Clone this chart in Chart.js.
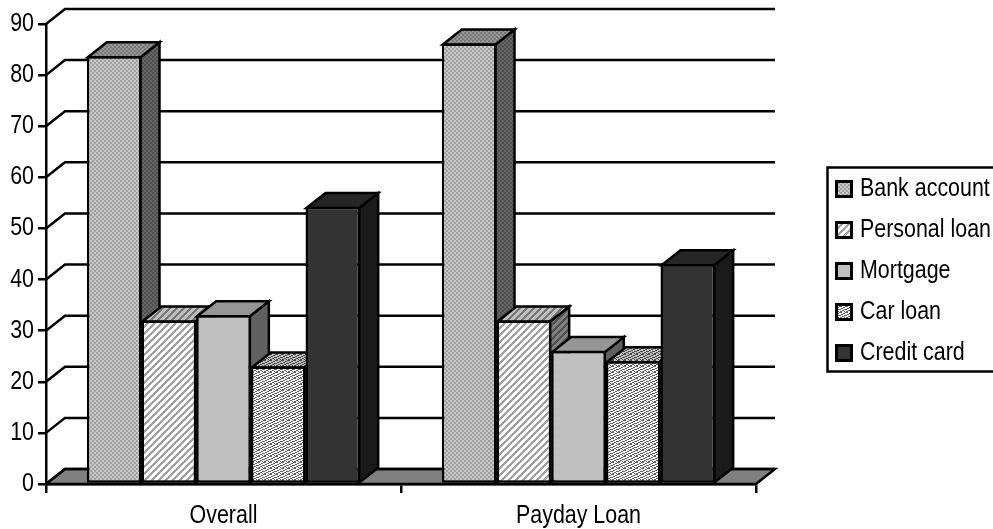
<!DOCTYPE html>
<html>
<head>
<meta charset="utf-8">
<title>Loan types</title>
<script src="https://cdn.jsdelivr.net/npm/chart.js@4"></script>
<style>
  html, body { margin: 0; padding: 0; background: #fff; }
  #wrap { width: 993px; height: 529px; }
</style>
</head>
<body>
<div id="wrap"><canvas id="barChart" width="993" height="529"></canvas></div>
<script>
const categories = ['Overall', 'Payday Loan'];
const seriesNames = ['Bank account', 'Personal loan', 'Mortgage', 'Car loan', 'Credit card'];

const bankAccount = [83.7, 86.2];
const personalLoan = [32, 32];
const mortgage = [33, 26];
const carLoan = [23, 24];
const creditCard = [54.2, 43];
const seriesValues = [bankAccount, personalLoan, mortgage, carLoan, creditCard];

const yTicks = { min: 0, max: 90, stepSize: 10 };

const FONT = { family: '"Liberation Sans", Arial, sans-serif', size: 25.5 };
const TEXT_SQUEEZE = 0.84;
const LINE = 2.5;
const DEPTH_X = 19;
const DEPTH_Y = 15;

// small repeating tile, cells is a grid of colours
function tile(cells, px) {
  const c = document.createElement('canvas');
  c.width = cells[0].length * px;
  c.height = cells.length * px;
  const g = c.getContext('2d');
  cells.forEach((row, y) => row.forEach((col, x) => {
    g.fillStyle = col;
    g.fillRect(x * px, y * px, px, px);
  }));
  return g.createPattern(c, 'repeat');
}

function checker(a, b) {
  return tile([[a, b], [b, a]], 2);
}

function hatch(line, bg) {
  const rows = [];
  for (let y = 0; y < 7; y++) {
    const row = [];
    for (let x = 0; x < 7; x++) {
      row.push((x + y) % 7 < 3 ? line : bg);
    }
    rows.push(row);
  }
  return tile(rows, 1);
}

function speckle(d, l) {
  return tile([
    [d, d, l, l, l, d],
    [l, l, l, d, d, l],
    [l, d, d, l, l, l],
    [d, l, l, l, d, d],
    [l, l, d, d, l, l],
    [d, d, l, l, d, l]
  ], 1);
}

const frontFills = [checker('#a0a0a0', '#c8c8c8'), hatch('#a0a0a0', '#ffffff'), '#c0c0c0', speckle('#606060', '#ffffff'), '#333333'];
const topFills = [checker('#787878', '#969696'), hatch('#787878', '#c0c0c0'), '#969696', speckle('#484848', '#c0c0c0'), '#262626'];
const sideFills = [checker('#505050', '#646464'), hatch('#505050', '#808080'), '#606060', speckle('#303030', '#808080'), '#1a1a1a'];

function face(ctx, pts, fill) {
  ctx.beginPath();
  pts.forEach((p, i) => i ? ctx.lineTo(p[0], p[1]) : ctx.moveTo(p[0], p[1]));
  ctx.closePath();
  if (fill) {
    ctx.fillStyle = fill;
    ctx.fill();
  }
  ctx.stroke();
}

// condensed lettering: narrows every label around its own anchor point
const condensedText = {
  id: 'condensedText',
  beforeInit(chart) {
    const { ctx } = chart;
    const fillText = ctx.fillText.bind(ctx);
    ctx.fillText = (text, x, y) => {
      ctx.save();
      ctx.translate(x, y);
      ctx.scale(TEXT_SQUEEZE, 1);
      fillText(text, 0, 0);
      ctx.restore();
    };
  }
};

// back wall: floor, receding gridlines and the links to the value axis
const wallPlugin = {
  id: 'wall',
  beforeDraw(chart) {
    const { ctx, scales: { x, y } } = chart;
    const bottom = y.getPixelForValue(0);
    ctx.save();
    ctx.strokeStyle = '#000';
    ctx.lineWidth = LINE;
    face(ctx, [
      [x.left, bottom],
      [x.left + DEPTH_X, bottom - DEPTH_Y],
      [x.right + DEPTH_X, bottom - DEPTH_Y],
      [x.right, bottom]
    ], '#808080');
    y.ticks.forEach(t => {
      const py = y.getPixelForValue(t.value);
      ctx.beginPath();
      ctx.moveTo(x.left, py);
      ctx.lineTo(x.left + DEPTH_X, py - DEPTH_Y);
      ctx.lineTo(x.right + DEPTH_X, py - DEPTH_Y);
      ctx.stroke();
    });
    ctx.restore();
  }
};

// bars go left to right so each one covers the depth faces of the previous one
const boxPlugin = {
  id: 'boxes',
  beforeDatasetsDraw(chart) {
    const { ctx } = chart;
    ctx.save();
    ctx.strokeStyle = '#000';
    ctx.lineWidth = LINE;
    ctx.lineJoin = 'miter';
    categories.forEach((_, c) => {
      seriesNames.forEach((_, s) => {
        const bar = chart.getDatasetMeta(s).data[c];
        const l = bar.x - bar.width / 2 + 1;
        const r = bar.x + bar.width / 2 - 1;
        const t = bar.y + 1;
        const b = bar.base;
        face(ctx, [[r, t], [r + DEPTH_X, t - DEPTH_Y], [r + DEPTH_X, b - DEPTH_Y], [r, b]], sideFills[s]);
        face(ctx, [[l, t], [l + DEPTH_X, t - DEPTH_Y], [r + DEPTH_X, t - DEPTH_Y], [r, t]], topFills[s]);
        bar.draw(ctx);
      });
    });
    ctx.restore();
    return false;
  }
};

// legend text comes from the library; swatches sit closer to it than its gap allows,
// so they are painted here along with the frame that runs off the right edge
const legendPlugin = {
  id: 'legendFrame',
  afterLayout(chart) {
    const lg = chart.legend;
    lg.left = 819.75;
    lg.right = 1000;
    lg.top = 160.75;
    lg.bottom = 420;
    lg.width = lg.right - lg.left;
    lg.height = lg.bottom - lg.top;
  },
  afterDraw(chart) {
    const { ctx } = chart;
    ctx.save();
    ctx.strokeStyle = '#000';
    ctx.lineWidth = LINE;
    ctx.strokeRect(827.5, 167.5, 170, 204);
    ctx.lineWidth = 3;
    seriesNames.forEach((_, i) => {
      ctx.fillStyle = frontFills[i];
      ctx.fillRect(836.5, 181.5 + i * 41, 15, 15);
      ctx.strokeRect(836.5, 181.5 + i * 41, 15, 15);
    });
    ctx.restore();
  }
};

new Chart(document.getElementById('barChart'), {
  type: 'bar',
  data: {
    labels: categories,
    datasets: seriesNames.map((name, i) => ({
      label: name,
      data: seriesValues[i],
      backgroundColor: frontFills[i],
      borderColor: '#000',
      borderWidth: LINE,
      borderSkipped: false,
      categoryPercentage: 0.77,
      barPercentage: 1
    }))
  },
  options: {
    responsive: false,
    animation: false,
    layout: { padding: { left: 0, top: 24, right: 237, bottom: 0 } },
    plugins: {
      tooltip: { enabled: false },
      legend: {
        position: 'chartArea',
        align: 'start',
        labels: {
          font: FONT,
          color: '#000',
          boxWidth: 12,
          boxHeight: 12,
          padding: 15.5,
          generateLabels: (chart) => Chart.defaults.plugins.legend.labels.generateLabels(chart)
            .map(item => ({ ...item, lineWidth: 0, fillStyle: 'transparent' }))
        }
      }
    },
    scales: {
      x: {
        afterFit: (scale) => { scale.height = 45; },
        grid: { drawOnChartArea: false, drawTicks: true, tickLength: 9, color: '#000', lineWidth: LINE },
        border: { color: '#000', width: LINE },
        ticks: { font: FONT, color: '#000', padding: 8, maxRotation: 0 }
      },
      y: {
        min: yTicks.min,
        max: yTicks.max,
        afterFit: (scale) => { scale.width = 46; },
        grid: { drawOnChartArea: false, drawTicks: true, tickLength: 8, color: '#000', lineWidth: LINE },
        border: { color: '#000', width: LINE },
        ticks: { stepSize: yTicks.stepSize, font: FONT, color: '#000', padding: 4 }
      }
    }
  },
  plugins: [condensedText, wallPlugin, boxPlugin, legendPlugin]
});
</script>
</body>
</html>
